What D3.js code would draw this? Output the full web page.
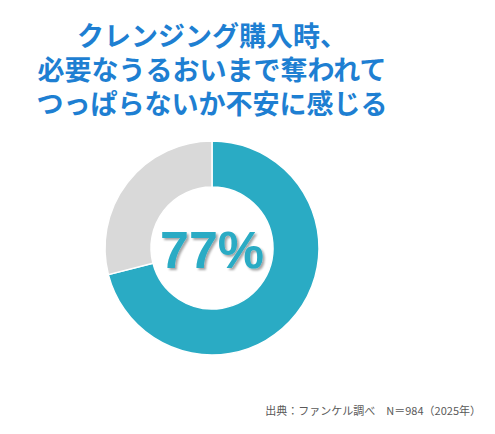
<!DOCTYPE html>
<html>
<head>
<meta charset="utf-8">
<script src="https://cdn.jsdelivr.net/npm/d3@7"></script>
<style>
  body { margin: 0; background: #fff; }
  svg { display: block; }
</style>
</head>
<body>
<svg id="chart" width="495" height="434"></svg>
<script>
// data
var titleLines = ["クレンジング購入時、", "必要なうるおいまで奪われて", "つっぱらないか不安に感じる"];
var categories = ["感じる", "その他"];
var values = [71, 29];
var centerLabel = "77%";
var sourceNote = "出典：ファンケル調べ　N＝984（2025年）";

var colors = ["#2AABC4", "#D9D9D9"];

var svg = d3.select("#chart");
var width = 495;

var defs = svg.append("defs");
var shadow = defs.append("filter").attr("id", "txtShadow")
    .attr("x", "-20%").attr("y", "-20%").attr("width", "140%").attr("height", "140%");
shadow.append("feDropShadow")
    .attr("dx", 2).attr("dy", 2).attr("stdDeviation", 1.2)
    .attr("flood-color", "#000").attr("flood-opacity", 0.35);

// title
svg.append("g").selectAll("text")
    .data(titleLines)
    .enter().append("text")
    .attr("x", 212)
    .attr("y", function(d, i) { return 46 + i * 34; })
    .attr("text-anchor", "middle")
    .style("font-family", "'Noto Sans CJK JP', sans-serif")
    .style("font-weight", "bold")
    .style("font-size", "27px")
    .style("fill", "#1E7FD2")
    .text(function(d) { return d; });

// donut
var cx = 212, cy = 248;
var pie = d3.pie().sort(null).value(function(d) { return d; });
var arc = d3.arc().innerRadius(61).outerRadius(107);

var g = svg.append("g").attr("transform", "translate(" + cx + "," + cy + ")");
g.selectAll("path")
    .data(pie(values))
    .enter().append("path")
    .attr("d", arc)
    .attr("fill", function(d, i) { return colors[i]; })
    .attr("stroke", "#fff")
    .attr("stroke-width", 1.5);

g.append("text")
    .attr("x", 0)
    .attr("y", 20)
    .attr("text-anchor", "middle")
    .attr("filter", "url(#txtShadow)")
    .style("font-family", "'Liberation Sans', Arial, sans-serif")
    .style("font-weight", "bold")
    .style("font-size", "52px")
    .style("fill", colors[0])
    .text(centerLabel);

// source
svg.append("text")
    .attr("x", 481)
    .attr("y", 415)
    .attr("text-anchor", "end")
    .style("font-family", "'Noto Sans CJK JP', sans-serif")
    .style("font-size", "11px")
    .style("fill", "#595959")
    .text(sourceNote);
</script>
</body>
</html>
